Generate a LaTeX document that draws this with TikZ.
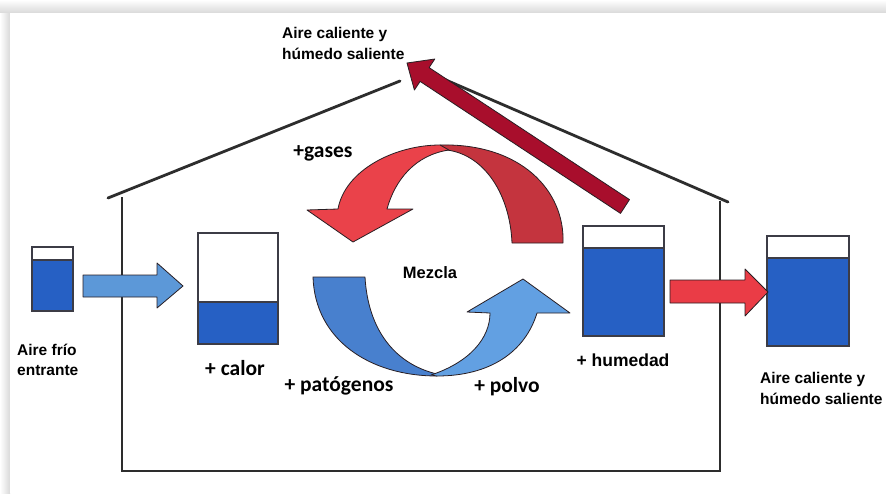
\documentclass[tikz,border=0pt]{standalone}
\usepackage{fontspec}
\setmainfont{Liberation Sans}
\newfontfamily\calib{Carlito}
\definecolor{houseC}{RGB}{45,45,45}
\definecolor{outC}{RGB}{40,30,35}
\definecolor{boxC}{RGB}{60,60,70}
\definecolor{waterC}{RGB}{38,96,196}
\definecolor{blueArrC}{RGB}{92,152,216}
\definecolor{blueDkC}{RGB}{72,128,206}
\definecolor{blueLtC}{RGB}{98,160,226}
\definecolor{redLtC}{RGB}{234,66,74}
\definecolor{redDkC}{RGB}{196,52,62}
\definecolor{redArrC}{RGB}{234,60,70}
\definecolor{crimsonC}{RGB}{168,14,44}
\begin{document}
\begin{tikzpicture}[x=1pt,y=-1pt,
  houseline/.style={line width=2.8pt, draw=houseC, line cap=round},
  blockarrow/.style={draw=outC, line width=0.8pt, line join=round},
  boxframe/.style={draw=boxC, line width=1.3pt},
  lab/.style={font=\fontsize{15.5}{21}\selectfont\bfseries, align=left, inner sep=0pt},
  plus/.style={font=\calib\fontsize{21.5}{24}\selectfont\bfseries, inner sep=0pt}]
\useasboundingbox (0,0) rectangle (886,493);
% frame shadow
\fill[gray!10] (0,0) rectangle (886,493);
\shade[top color=white, bottom color=gray!30] (0,0) rectangle (886,13);
\shade[left color=white, right color=gray!30] (0,13) rectangle (10,493);
\fill[white] (10,13) rectangle (886,493);

% house
\draw[houseline] (108,198) -- (400,81);
\draw[houseline] (432,74) -- (728,202);
\draw[houseline, line cap=butt] (122,197) -- (122,471) -- (720,471) -- (720,201);

% boxes
\fill[waterC] (32,260) rectangle (73,311);
\draw[boxframe] (32,247) rectangle (73,311);
\draw[boxframe] (32,260) -- (73,260);

\fill[waterC] (198,302) rectangle (278,344);
\draw[boxframe] (198,233) rectangle (278,344);
\draw[boxframe] (198,302) -- (278,302);

\fill[waterC] (583,248) rectangle (664,336);
\draw[boxframe] (583,226) rectangle (664,336);
\draw[boxframe] (583,248) -- (664,248);

\fill[waterC] (767,258) rectangle (849,346);
\draw[boxframe] (767,236) rectangle (849,346);
\draw[boxframe] (767,258) -- (849,258);

% straight arrows
\draw[blockarrow, fill=blueArrC] (83,275) -- (157,275) -- (157,263) -- (183,286)
  -- (157,308) -- (157,297) -- (83,297) -- cycle;
\draw[blockarrow, fill=redArrC] (670,280) -- (745,280) -- (745,269) -- (768,292)
  -- (745,316) -- (745,303) -- (670,303) -- cycle;

% red curved arrow (top)
\draw[blockarrow, fill=redDkC] (440,145) .. controls (520,143) and (565,190) .. (563,243)
  -- (512,243) .. controls (510,195) and (485,155) .. (447,150) -- cycle;
\draw[blockarrow, fill=redLtC] (440,145) .. controls (395,145) and (345,170) .. (338,209)
  -- (307,210) -- (353,242) -- (413,209) -- (387,209)
  .. controls (395,180) and (415,155) .. (449,150) -- cycle;

% blue curved arrow (bottom)
\draw[blockarrow, fill=blueDkC] (313,277) -- (365,277)
  .. controls (368,330) and (395,364) .. (437,374)
  -- (437,376) .. controls (370,376) and (315,340) .. (313,277) -- cycle;
\draw[blockarrow, fill=blueLtC] (431,375) .. controls (470,362) and (490,338) .. (490,313)
  -- (467,312) -- (523,279) -- (570,313) -- (537,313)
  .. controls (525,352) and (490,376) .. (437,376) -- cycle;

% big exhaust arrow
\draw[blockarrow, fill=crimsonC] (629.5,199.6) -- (429.1,67.6) -- (434.8,59) -- (407,63)
  -- (414.4,90) -- (420.1,81.4) -- (620.5,213.4) -- cycle;

% labels
\node[lab, anchor=west] (top) at (282,43) {Aire caliente y\\húmedo saliente};
\node[lab, anchor=west] (out) at (760,388) {Aire caliente y\\húmedo saliente};
\node[lab, anchor=west, font=\fontsize{15.5}{20}\selectfont\bfseries] (in) at (17,360) {Aire frío\\entrante};
\node[plus] (calor) at (235,368) {+ calor};
\node[plus] (pat) at (339,386) {+ patógenos};
\node[plus] (polvo) at (507,387) {+ polvo};
\node[plus] (gases) at (323,153) {+gases};
\node[font=\fontsize{17.5}{20}\selectfont\bfseries, inner sep=0pt] (hum) at (623,360) {+ humedad};
\node[font=\fontsize{16.5}{18}\selectfont\bfseries, inner sep=0pt] (mez) at (430,273) {Mezcla};
\end{tikzpicture}
\end{document}
